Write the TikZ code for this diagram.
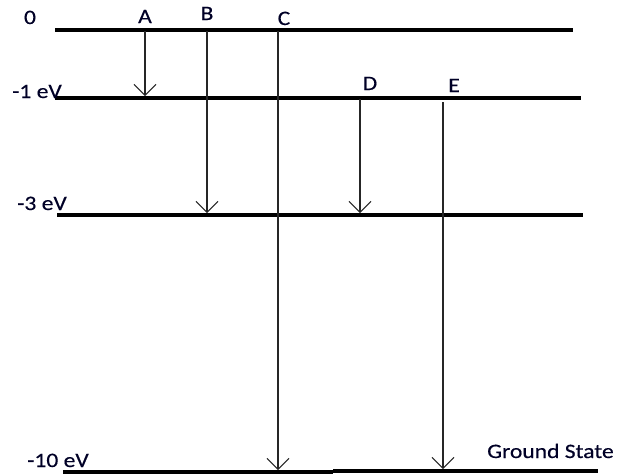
\documentclass[tikz,border=0pt]{standalone}
\usepackage{fontspec}
\setmainfont{Carlito}[FakeStretch=1.15,FakeBold=0.4]
\usetikzlibrary{arrows.meta}
\begin{document}
\begin{tikzpicture}[x=1pt,y=-1pt,
  level/.style={line width=3.6pt,black},
  trans/.style={line width=1.1pt,black!85,-{Straight Barb[length=11pt,width=22pt,line width=1pt]}},
  lbl/.style={font=\fontsize{20.5}{22}\selectfont,text=black!85!blue,inner sep=0pt},
  tag/.style={lbl,anchor=base},
  side/.style={lbl,anchor=base west}]
\useasboundingbox (0,0) rectangle (618,475);
% levels
\coordinate (L0a) at (55,30);  \coordinate (L0b) at (573,30);
\coordinate (L1a) at (55,98);  \coordinate (L1b) at (581,98);
\coordinate (L3a) at (57,215); \coordinate (L3b) at (583,215);
\coordinate (L10a) at (63,472); \coordinate (L10m) at (333,472);
\coordinate (L10c) at (333,471); \coordinate (L10b) at (598,471);
\draw[level] (L0a) -- (L0b);
\draw[level] (L1a) -- (L1b);
\draw[level] (L3a) -- (L3b);
\draw[level] (L10a) -- (L10m);
\draw[level] (L10c) -- (L10b);
% labels
\node[tag] (z) at (30,24) {0};
\node[side] (m1) at (12,98) {-1 eV};
\node[side] (m3) at (17,210) {-3 eV};
\node[side] (m10) at (27,467) {-10 eV};
\node[side] (gs) at (487,458) {Ground State};
\node[tag] (A) at (145,23) {A};
\node[tag] (B) at (207,20) {B};
\node[tag] (C) at (284,25) {C};
\node[tag] (D) at (370,90) {D};
\node[tag] (E) at (454,92) {E};
% transitions
\coordinate (As) at (145,31); \coordinate (Ae) at (145,96);
\coordinate (Bs) at (207,31); \coordinate (Be) at (207,213);
\coordinate (Cs) at (278,31); \coordinate (Ce) at (278,470);
\coordinate (Ds) at (360,99); \coordinate (De) at (360,213);
\coordinate (Es) at (443,102); \coordinate (Ee) at (443,469);
\draw[trans] (As) -- (Ae);
\draw[trans] (Bs) -- (Be);
\draw[trans] (Cs) -- (Ce);
\draw[trans] (Ds) -- (De);
\draw[trans] (Es) -- (Ee);
\end{tikzpicture}
\end{document}
